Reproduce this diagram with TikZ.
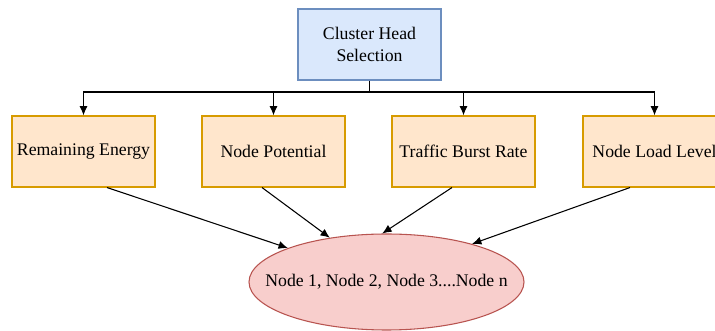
\documentclass[tikz,border=0pt]{standalone}
\usepackage{fontspec}
\setmainfont{Liberation Serif}
\usepackage{tikz}
\usetikzlibrary{arrows, arrows.meta, shapes, shapes.geometric, calc}
\definecolor{headfill}{HTML}{DAE8FC}
\definecolor{headdraw}{HTML}{6C8EBF}
\definecolor{paramfill}{HTML}{FFE6CC}
\definecolor{paramdraw}{HTML}{D79B00}
\definecolor{nodefill}{HTML}{F8CECC}
\definecolor{nodedraw}{HTML}{B85450}
\tikzset{
	box/.style={rectangle, draw, line width=0.8pt, minimum width=107.25pt, minimum height=53.25pt, inner sep=0pt, align=center},
	head/.style={box, fill=headfill, draw=headdraw},
	param/.style={box, fill=paramfill, draw=paramdraw},
	sink/.style={ellipse, draw=nodedraw, fill=nodefill, line width=0.8pt, minimum width=206.25pt, minimum height=72pt, inner sep=0pt},
	line/.style={draw, line width=0.8pt, -{Latex[length=7pt,width=6pt]}}
}
\begin{document}
\begin{tikzpicture}[x=0.75pt,y=-0.75pt,font=\fontsize{13.3pt}{17pt}\selectfont]
			\path[use as bounding box, clip] (0,0) rectangle (715,331);
			% Head
			\node[head] (CH) at (369.5,44.5) {Cluster Head\\Selection};
			\coordinate (split) at (369.5,92);
			
			% Parameters
			\node[param] (P-1) at (83.5,151.5) {Remaining Energy};
			\node[param] (P-2) at (273.5,151.5) {Node Potential};
			\node[param] (P-3) at (463.5,151.5) {Traffic Burst Rate};
			\node[param] (P-4) at (654.5,151.5) {Node Load Level};
			
			% Nodes
			\node[sink] (N) at (386.5,282) {\makebox[0pt]{Node 1, Node 2, Node 3....Node n}};
			
			% Connections
			\draw[line width=1.1pt] (CH.south) -- (split);
			\foreach \i in {1,...,4}
			\draw[line] (split) -| (P-\i.north);
			\draw[line] ($(P-1.south)+(23.5,0)$) -- (N.161);
			\draw[line] ($(P-2.south)+(-11.5,0)$) -- (N.142);
			\draw[line] ($(P-3.south)+(-11.5,0)$) -- (N.95);
			\draw[line] ($(P-4.south)+(-24.5,0)$) -- (N.24);
		\end{tikzpicture}
\end{document}
